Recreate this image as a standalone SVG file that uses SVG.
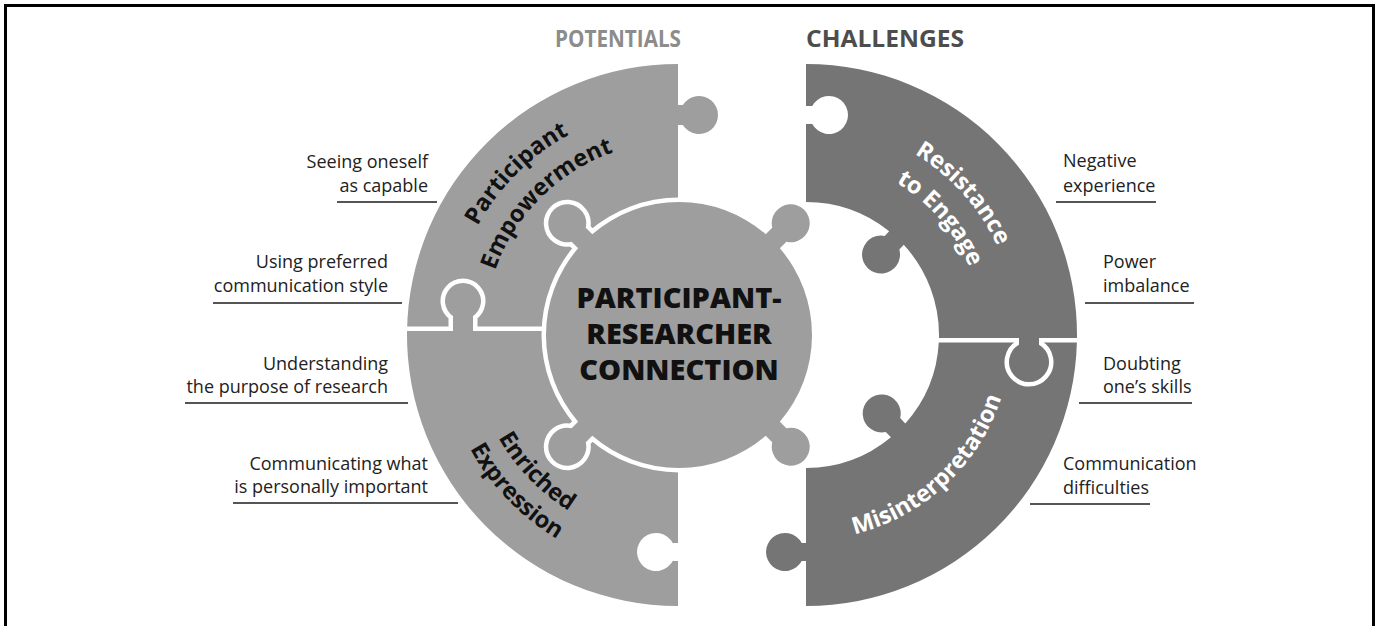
<svg xmlns="http://www.w3.org/2000/svg" width="1378" height="626" viewBox="0 0 1378 626">
<style>
.light{fill:#9e9e9e}
.dark{fill:#757575}
.halo{stroke:#ffffff;stroke-width:9;paint-order:stroke;stroke-linejoin:round}
.lbl{font-family:"Open Sans","Liberation Sans",sans-serif;font-size:18px;fill:#222222}
.pt{font-family:"Open Sans","Liberation Sans",sans-serif;font-size:23.5px;font-weight:bold}
.ttl{font-family:"Open Sans","Liberation Sans",sans-serif;font-size:23px;font-weight:bold}
.ctr{font-family:"Open Sans","Liberation Sans",sans-serif;font-size:29px;font-weight:800;fill:#111111}
.ul{stroke:#555555;stroke-width:2;fill:none}
</style>
<defs>
<path id="pPart" d="M 450 335 A 228 228 0 0 1 678 107"/>
<path id="pEmp" d="M 484 335 A 194 194 0 0 1 678 141"/>
<path id="pRes" d="M 817.04 124.29 A 211 211 0 0 1 1016.71 346.04"/>
<path id="pEng" d="M 818.35 158.43 A 177 177 0 0 1 982.57 347.35"/>
<path id="pEnr" d="M 471 331.4 A 207 207 0 0 0 674.4 542"/>
<path id="pExp" d="M 441 330.9 A 237 237 0 0 0 673.9 572"/>
<path id="pMis" d="M 798.8 539.9 A 205 205 0 0 0 1010.9 342.2"/>
</defs>
<rect width="1378" height="626" fill="#ffffff"/>
<path d="M 5.5 626 L 5.5 5.5 L 1373.5 5.5 L 1373.5 626" fill="none" stroke="#000000" stroke-width="3"/>

<g id="titles">
<text class="ttl" x="681" y="47" text-anchor="end" fill="#8c8c8c" textLength="126" lengthAdjust="spacingAndGlyphs">POTENTIALS</text>
<text class="ttl" x="806" y="47" fill="#4d4d4d" textLength="158" lengthAdjust="spacingAndGlyphs">CHALLENGES</text>
</g>

<g id="participant-empowerment">
<path class="light" d="M 407.03 331 A 271 271 0 0 1 678 64 L 678 105 L 682.84 105 A 19 19 0 1 1 682.84 125 L 678 125 L 678 331 Z"/>
</g>
<g id="enriched-expression">
<path class="light halo" d="M 678 331 L 678 543 L 672.73 543 A 19 19 0 1 0 672.73 561 L 678 561 L 678 606 A 271 271 0 0 1 407.03 331 L 453 331 L 453 315.97 A 18 18 0 1 1 473 315.97 L 473 331 Z"/>
</g>
<g id="misinterpretation">
<path class="dark" d="M 938.82 342 L 1076.91 342 A 271 271 0 0 1 806 606 L 806 561 L 801.73 561 A 19 19 0 1 1 801.73 543 L 806 543 L 806 468 A 133 133 0 0 0 890.94 437.35 L 885.75 431.98 A 19 19 0 1 1 900.13 418.08 L 905.32 423.45 A 133 133 0 0 0 938.82 342 Z"/>
</g>
<g id="resistance-to-engage">
<path class="dark halo" d="M 806 64 A 271 271 0 0 1 1076.98 338 L 1039 338 L 1039 344.68 A 20 20 0 1 1 1019 344.68 L 1019 338 L 938.97 338 A 133 133 0 0 0 903.76 244.83 L 899.35 249.55 A 19 19 0 1 1 884.73 235.91 L 889.14 231.19 A 133 133 0 0 0 806 202 L 806 124 L 812.27 124 A 19 19 0 1 0 812.27 106 L 806 106 Z"/>
</g>
<g id="center">
<path class="light halo" d="M 578.15 248.29 L 571.63 241.77 A 19 19 0 1 1 585.77 227.63 L 592.29 234.15 A 133 133 0 0 1 765.71 234.15 L 772.23 227.63 A 19 19 0 1 1 786.37 241.77 L 779.85 248.29 A 133 133 0 0 1 779.85 421.71 L 786.37 428.23 A 19 19 0 1 1 772.23 442.37 L 765.71 435.85 A 133 133 0 0 1 592.29 435.85 L 585.77 442.37 A 19 19 0 1 1 571.63 428.23 L 578.15 421.71 A 133 133 0 0 1 578.15 248.29 Z"/>
<text class="ctr" text-anchor="middle"><tspan x="679" y="308">PARTICIPANT-</tspan><tspan x="679" y="344">RESEARCHER</tspan><tspan x="679" y="380">CONNECTION</tspan></text>
</g>

<g id="piece-labels">
<text class="pt" fill="#111111"><textPath href="#pPart" startOffset="50%" text-anchor="middle">Participant</textPath></text>
<text class="pt" fill="#111111"><textPath href="#pEmp" startOffset="50%" text-anchor="middle">Empowerment</textPath></text>
<text class="pt" fill="#111111"><textPath href="#pEnr" startOffset="50%" text-anchor="middle">Enriched</textPath></text>
<text class="pt" fill="#111111"><textPath href="#pExp" startOffset="50%" text-anchor="middle">Expression</textPath></text>
<text class="pt" fill="#ffffff"><textPath href="#pRes" startOffset="50%" text-anchor="middle">Resistance</textPath></text>
<text class="pt" fill="#ffffff"><textPath href="#pEng" startOffset="50%" text-anchor="middle">to Engage</textPath></text>
<text class="pt" fill="#ffffff"><textPath href="#pMis" startOffset="50%" text-anchor="middle">Misinterpretation</textPath></text>
</g>

<g id="connectors">
<line class="ul" x1="337" y1="202" x2="437" y2="202"/>
<line class="ul" x1="213" y1="303" x2="402" y2="303"/>
<line class="ul" x1="185" y1="403" x2="408" y2="403"/>
<line class="ul" x1="233" y1="503" x2="458" y2="503"/>
<line class="ul" x1="1056" y1="202" x2="1156" y2="202"/>
<line class="ul" x1="1085" y1="303" x2="1194" y2="303"/>
<line class="ul" x1="1079" y1="403" x2="1192" y2="403"/>
<line class="ul" x1="1030" y1="504" x2="1150" y2="504"/>
</g>

<g id="labels-left" class="lbl" text-anchor="end">
<text x="428" y="168">Seeing oneself</text>
<text x="428" y="192">as capable</text>
<text x="388" y="268">Using preferred</text>
<text x="388" y="292">communication style</text>
<text x="388" y="370">Understanding</text>
<text x="388" y="393">the purpose of research</text>
<text x="428" y="470">Communicating what</text>
<text x="428" y="493">is personally important</text>
</g>
<g id="labels-right" class="lbl">
<text x="1063" y="167">Negative</text>
<text x="1063" y="192">experience</text>
<text x="1103" y="268">Power</text>
<text x="1103" y="292">imbalance</text>
<text x="1103" y="370">Doubting</text>
<text x="1103" y="393">one’s skills</text>
<text x="1063" y="470">Communication</text>
<text x="1063" y="494">difficulties</text>
</g>
</svg>
